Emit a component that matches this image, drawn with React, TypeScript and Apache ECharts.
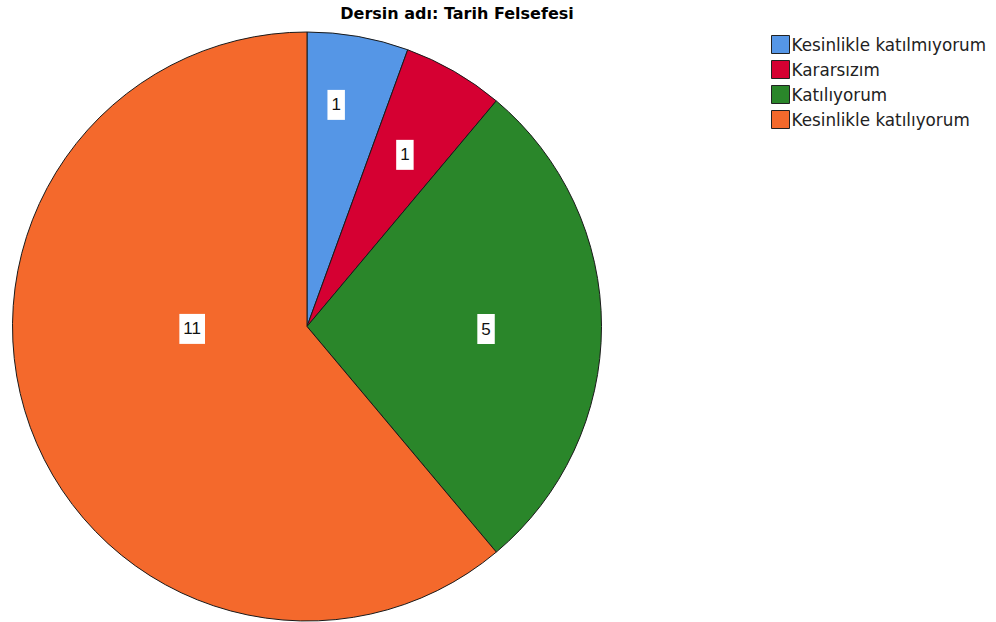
import React, { useEffect, useRef } from "react";
import * as echarts from "echarts";

const titleText = "Dersin adı: Tarih Felsefesi";
const categories = [
  "Kesinlikle katılmıyorum",
  "Kararsızım",
  "Katılıyorum",
  "Kesinlikle katılıyorum",
];
const counts = [1, 1, 5, 11];
const colors = ["#5596e6", "#d50032", "#2a862a", "#f4692c"];

// label placement (angle in degrees clockwise from top, fraction of radius)
const labelPolar: [number, number][] = [
  [7.5, 0.759],
  [29.7, 0.671],
  [90.8, 0.608],
  [268.8, 0.39],
];

const CX = 307;
const CY = 326.5;
const R = 294.5;

export default function App() {
  const ref = useRef<HTMLDivElement>(null);
  useEffect(() => {
    document.body.style.margin = "0";
    const chart = echarts.init(ref.current!, null, { renderer: "svg" });
    chart.setOption({
      animation: false,
      backgroundColor: "#ffffff",
      title: {
        text: titleText,
        left: 457,
        textAlign: "center",
        top: 5,
        padding: 0,
        textStyle: {
          fontFamily: "DejaVu Sans",
          fontWeight: "bold",
          fontSize: 16,
          color: "#000",
        },
      },
      legend: {
        orient: "vertical",
        left: 771,
        top: 35,
        padding: 0,
        icon: "rect",
        itemWidth: 18,
        itemHeight: 18,
        itemGap: 6,
        selectedMode: false,
        itemStyle: { borderColor: "#222", borderWidth: 1 },
        textStyle: {
          fontFamily: "DejaVu Sans",
          fontSize: 16.8,
          color: "#222",
          padding: [0, 0, 0, -3],
        },
        data: categories,
      },
      series: [
        {
          type: "pie",
          center: [CX, CY],
          radius: R,
          startAngle: 90,
          clockwise: true,
          avoidLabelOverlap: false,
          itemStyle: { borderColor: "#1a1a1a", borderWidth: 1 },
          label: {
            show: true,
            position: "inside",
            formatter: "{c}",
            backgroundColor: "#ffffff",
            color: "#111",
            fontFamily: "Liberation Sans",
            fontSize: 17,
            lineHeight: 20,
            padding: [5, 4],
          },
          labelLine: { show: false },
          emphasis: { disabled: true },
          labelLayout: (params: any) => {
            const p = labelPolar[params.dataIndex];
            const a = (p[0] * Math.PI) / 180;
            return {
              x: CX + Math.sin(a) * p[1] * R,
              y: CY - Math.cos(a) * p[1] * R,
              align: "center",
              verticalAlign: "middle",
            };
          },
          data: categories.map((name, i) => ({
            name,
            value: counts[i],
            itemStyle: { color: colors[i] },
          })),
        },
      ],
    });
    return () => chart.dispose();
  }, []);
  return (
    <div
      ref={ref}
      style={{ position: "absolute", left: 0, top: 0, width: 996, height: 622 }}
    />
  );
}
